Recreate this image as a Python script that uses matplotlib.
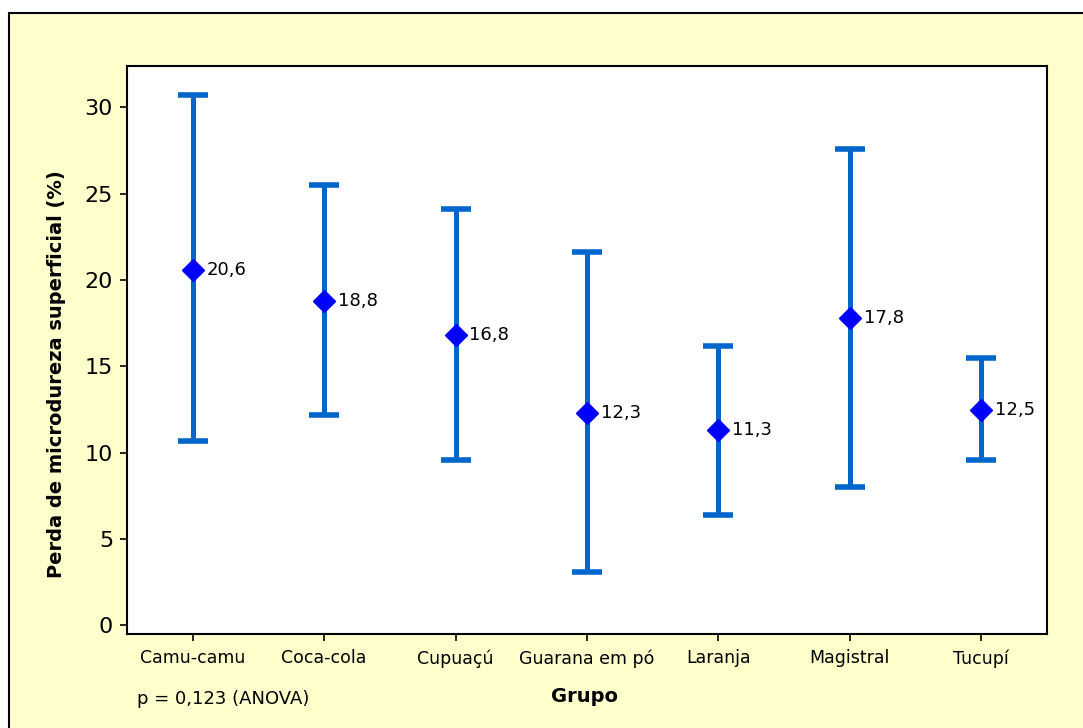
#!/usr/bin/env python3

import matplotlib
matplotlib.use("Agg")
import matplotlib.pyplot as plt
from matplotlib.patches import Rectangle
import numpy as np

# Intervalos de confianca por grupo
grupos = ["Camu-camu", "Coca-cola", "Cupuaçú", "Guarana em pó", "Laranja", "Magistral", "Tucupí"]
medias = [20.6, 18.8, 16.8, 12.3, 11.3, 17.8, 12.5]
inferior = [10.7, 12.2, 9.6, 3.1, 6.4, 8.0, 9.6]
superior = [30.7, 25.5, 24.1, 21.6, 16.2, 27.6, 15.5]
rotulos = ["20,6", "18,8", "16,8", "12,3", "11,3", "17,8", "12,5"]


def main():
    plt.rcParams["font.family"] = ["DejaVu Sans"]
    fig = plt.figure(figsize=(10.83, 7.28), dpi=100)
    fig.patch.set_facecolor("white")

    # moldura amarela
    W, H = 1083, 728
    fig.add_artist(Rectangle((9 / W, -0.05), 1.2, 1 - 13 / H + 0.05,
                             transform=fig.transFigure, facecolor="#FFFFCC",
                             edgecolor="black", linewidth=1.5, zorder=-10))

    ax = fig.add_axes([127 / W, 1 - 634 / H, 920 / W, 568 / H])
    ax.set_facecolor("white")

    x = np.arange(len(grupos))
    m = np.array(medias)
    err = [m - np.array(inferior), np.array(superior) - m]
    ax.errorbar(x, m, yerr=err, fmt="none", ecolor="#0066CC", elinewidth=3.6,
                capsize=11, capthick=4, zorder=2)
    ax.plot(x, m, linestyle="none", marker="D", markersize=11, color="#0000FF", zorder=3)
    for xi, yi, t in zip(x, m, rotulos):
        ax.annotate(t, (xi, yi), xytext=(10, 0), textcoords="offset points",
                    va="center", ha="left", fontsize=13)

    ax.set_xlim(-0.5, 6.5)
    ax.set_ylim(-0.5, 32.4)
    ax.set_xticks(x)
    ax.set_xticklabels(grupos, fontsize=12.5)
    ax.set_yticks([0, 5, 10, 15, 20, 25, 30])
    ax.tick_params(axis="y", labelsize=16, length=5, width=1.2, pad=5)
    ax.tick_params(axis="x", length=5, width=1.2, pad=6)
    for s in ax.spines.values():
        s.set_linewidth(1.5)

    ax.set_ylabel("Perda de microdureza superficial (%)", fontsize=14, fontweight="bold")
    ax.yaxis.set_label_coords(-0.066, 0.458)
    ax.set_xlabel("Grupo", fontsize=14, fontweight="bold")
    ax.xaxis.set_label_coords(0.497, -0.094)

    fig.text(137 / W, 1 - 699 / H, "p = 0,123 (ANOVA)", fontsize=13, va="center", ha="left")

    plt.savefig("out.png", dpi=100, facecolor=fig.get_facecolor())
    plt.close()


if __name__ == "__main__":
    main()
